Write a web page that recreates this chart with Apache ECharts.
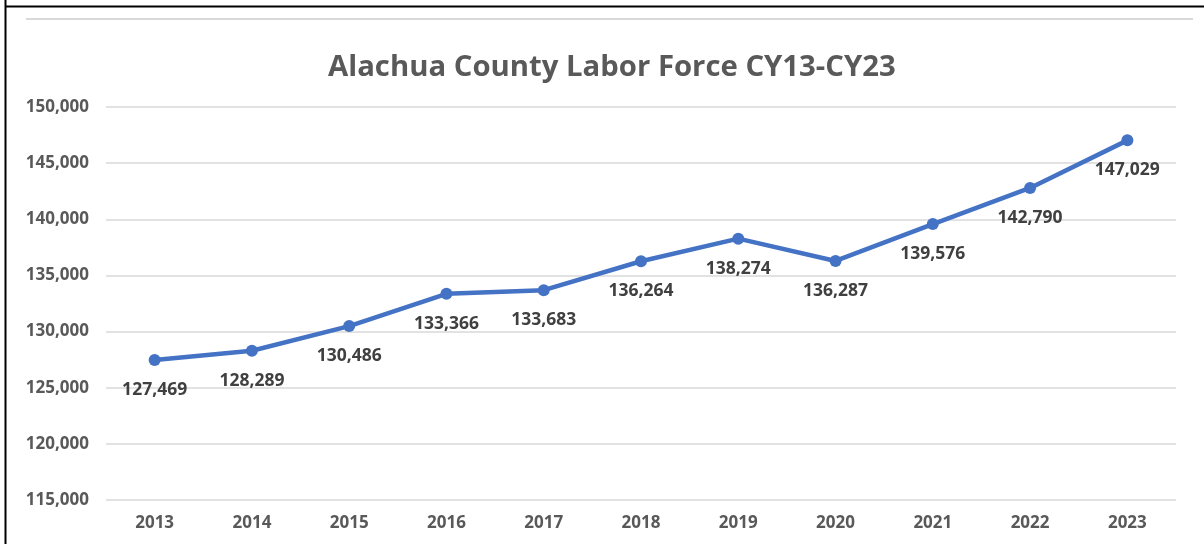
<!DOCTYPE html>
<html><head><meta charset="utf-8">
<script src="https://cdn.jsdelivr.net/npm/echarts@6/dist/echarts.min.js"></script>
<style>html,body{margin:0;padding:0;background:#fff}#c{width:1204px;height:544px}</style>
</head><body><div id="c"></div>
<script>
const years = ['2013','2014','2015','2016','2017','2018','2019','2020','2021','2022','2023'];
const laborForce = [127469,128289,130486,133366,133683,136264,138274,136287,139576,142790,147029];
const titleText = 'Alachua County Labor Force CY13-CY23';

const chart = echarts.init(document.getElementById('c'));
const fmt = v => v.toLocaleString('en-US');
chart.setOption({
  backgroundColor:'#fff',
  animation:false,
  title:{text:titleText,left:323,top:48,
    textStyle:{fontFamily:'Open Sans',fontWeight:'bold',fontSize:29.3,color:'#595959'}},
  graphic:[
    {type:'line',shape:{x1:5.5,y1:0,x2:5.5,y2:544},style:{stroke:'#000',lineWidth:2}},
    {type:'line',shape:{x1:5,y1:6.5,x2:1204,y2:6.5},style:{stroke:'#000',lineWidth:2}},
    {type:'line',shape:{x1:26,y1:19,x2:1193,y2:19},style:{stroke:'#d9d9d9',lineWidth:2}}
  ],
  grid:{left:106,right:28,top:107,bottom:44},
  xAxis:{type:'category',data:years,
    axisLine:{show:false},axisTick:{show:false},
    axisLabel:{fontFamily:'Open Sans',fontWeight:'bold',fontSize:17,color:'#595959',margin:15}},
  yAxis:{type:'value',min:115000,max:150000,interval:5000,
    axisLabel:{formatter:v=>fmt(v),fontFamily:'Open Sans',fontWeight:'bold',fontSize:17,color:'#595959',margin:17},
    splitLine:{lineStyle:{color:'#d9d9d9',width:1.5}}},
  series:[{type:'line',data:laborForce,color:'#4472C4',
    lineStyle:{width:4.5,color:'#4472C4'},symbol:'circle',symbolSize:12,
    itemStyle:{color:'#4472C4'},
    label:{show:true,position:'bottom',distance:15,formatter:p=>fmt(p.value),
      fontFamily:'Open Sans',fontWeight:'bold',fontSize:17.5,color:'#404040'}}]
});
</script></body></html>
